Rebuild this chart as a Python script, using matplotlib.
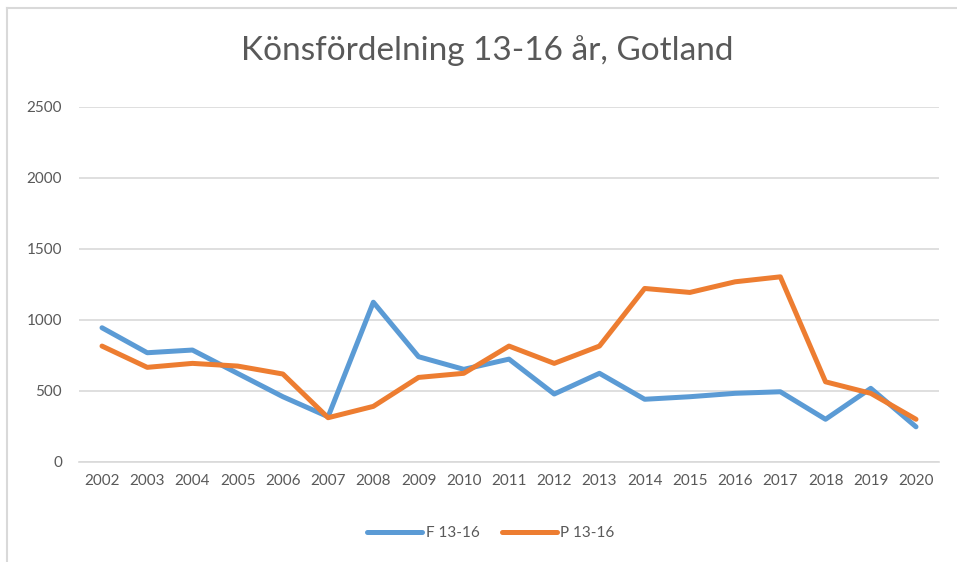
import matplotlib
matplotlib.use("Agg")
import matplotlib.pyplot as plt
from matplotlib.lines import Line2D

years = [str(y) for y in range(2002, 2021)]
f_13_16 = [944, 768, 787, 622, 458, 317, 1124, 740, 651, 723, 477, 623, 440, 458, 482, 493, 299, 517, 246]
p_13_16 = [815, 665, 693, 674, 618, 310, 390, 594, 623, 815, 693, 815, 1221, 1193, 1268, 1303, 563, 482, 299]
y_ticks = [0, 500, 1000, 1500, 2000, 2500]

title = "Könsfördelning 13-16 år, Gotland"
text_color = "#595959"
grid_color = "#D9D9D9"

plt.rcParams['font.family'] = ['Lato', 'DejaVu Sans']

fig = plt.figure(figsize=(9.57, 5.62), dpi=100)
W, H = 957, 562

# chart frame (only left and top visible in the crop)
fig.add_artist(Line2D([7 / W, 7 / W], [0, 1 - 7.5 / H], color=grid_color, lw=1.5, transform=fig.transFigure))
fig.add_artist(Line2D([7 / W, 1], [1 - 7.5 / H, 1 - 7.5 / H], color=grid_color, lw=1.5, transform=fig.transFigure))

ax = fig.add_axes([79.4 / W, 1 - 461.7 / H, (938.6 - 79.4) / W, (461.7 - 107) / H])

x = list(range(len(years)))
ax.plot(x, f_13_16, color="#5B9BD5", lw=3.6, solid_joinstyle="round", solid_capstyle="round", label="F 13-16")
ax.plot(x, p_13_16, color="#ED7D31", lw=3.6, solid_joinstyle="round", solid_capstyle="round", label="P 13-16")

ax.set_xlim(-0.5, len(years) - 0.5)
ax.set_ylim(0, 2500)
ax.set_yticks(y_ticks)
ax.set_yticklabels([str(v) for v in y_ticks])
ax.set_xticks(x)
ax.set_xticklabels(years)
ax.grid(axis="y", color=grid_color, lw=1.2)
ax.set_axisbelow(True)
for s in ["top", "right", "left"]:
    ax.spines[s].set_visible(False)
ax.spines["bottom"].set_color(grid_color)
ax.spines["bottom"].set_linewidth(1.2)
ax.tick_params(axis="both", length=0, labelsize=11, labelcolor=text_color)
ax.tick_params(axis="y", pad=12.5)
ax.tick_params(axis="x", pad=9)

fig.text(487 / W, 1 - 51 / H, title, ha="center", va="center", fontsize=24,
         color=text_color)

fig.legend(loc="center", bbox_to_anchor=(491 / W, 1 - 533 / H), ncol=2, frameon=False,
           fontsize=11, labelcolor=text_color, handlelength=3.6, handletextpad=0.2,
           columnspacing=1.5)

fig.savefig("out.png", dpi=100)
